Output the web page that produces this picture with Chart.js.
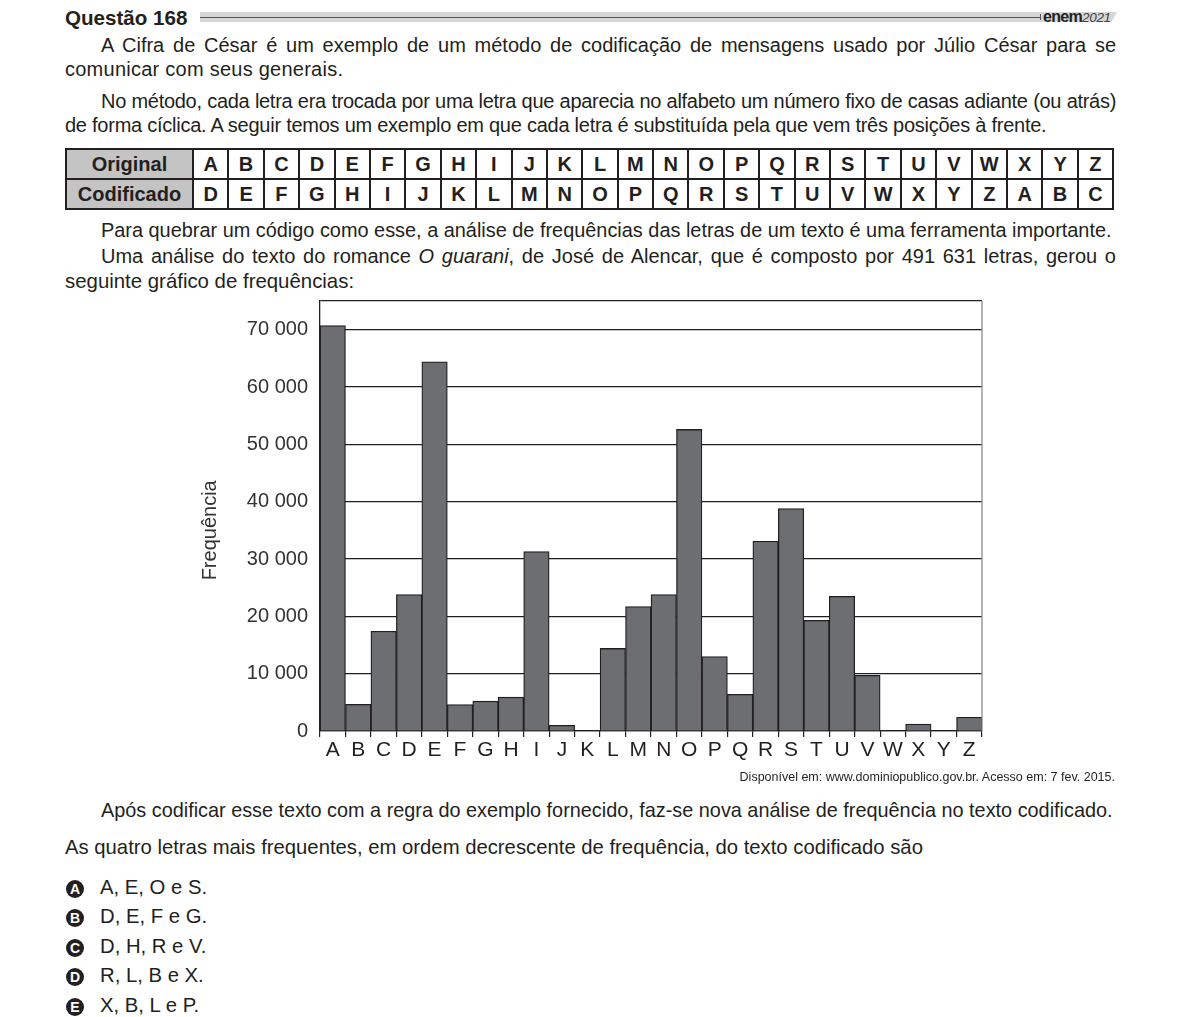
<!DOCTYPE html>
<html lang="pt-BR">
<head>
<meta charset="utf-8">
<title>Questão 168</title>
<script src="https://cdn.jsdelivr.net/npm/chart.js@4.4.1/dist/chart.umd.min.js"></script>
<style>
  html, body { margin: 0; padding: 0; background: #fff; }
  body { width: 1182px; height: 1017px; position: relative; overflow: hidden;
         font-family: "Liberation Sans", Arial, sans-serif; color: #231f20; }
  .abs { position: absolute; }
  .txt { left: 65px; width: 1051px; font-size: 20px; }
  .ln { display: block; white-space: nowrap; }
  .jl { text-align: justify; text-align-last: justify; }
  .ind { text-indent: 36px; }
  #hdr { left: 65px; top: 6px; font-size: 20.6px; font-weight: bold; line-height: 24px; }
  #band { left: 200px; top: 12px; width: 917px; height: 10px; background: #d6d6d6;
          clip-path: polygon(0 0, 100% 0, 99.4% 100%, 0 100%); }
  #bandline { left: 200px; top: 16.5px; width: 840px; height: 1px; background: #555; }
  #bandtick { left: 1040px; top: 14px; width: 1px; height: 6px; background: #555; }
  #enem { left: 1043px; top: 8px; font-size: 16px; line-height: 17px; letter-spacing: -0.7px; color: #222; }
  #enem b { font-weight: bold; }
  #enem i { font-size: 13.5px; color: #444; letter-spacing: -0.3px; }
  table { position: absolute; left: 65px; top: 148px; border-collapse: collapse; }
  td { border: 2px solid #231f20; height: 28px; padding: 0; text-align: center;
       font-weight: bold; font-size: 20px; width: 33.4px; line-height: 28px; }
  td.h { background: #c4c4c4; width: 125px; }
  #chartbox { left: 180px; top: 277px; width: 820px; height: 493px; }
  #src { right: 67px; top: 769px; font-size: 12.5px; line-height: 16px; }
  .opt { left: 66px; font-size: 20.3px; line-height: 24px; }
  .ic { display: inline-block; width: 18px; height: 18px; border-radius: 50%; background: #231f20;
        color: #fff; font-size: 14px; font-weight: bold; line-height: 18px; text-align: center;
        vertical-align: 0px; margin-right: 16px; }
</style>
</head>
<body>
<div class="abs" id="hdr">Questão 168</div>
<div class="abs" id="band"></div>
<div class="abs" id="bandline"></div>
<div class="abs" id="bandtick"></div>
<div class="abs" id="enem"><b>enem</b><i>2021</i></div>

<div class="abs txt" style="top:33px; line-height:24px;">
  <span class="ln jl ind">A Cifra de César é um exemplo de um método de codificação de mensagens usado por Júlio César para se</span>
  <span class="ln" style="letter-spacing:0.25px;">comunicar com seus generais.</span>
</div>
<div class="abs txt" style="top:89px; line-height:24px;">
  <span class="ln jl ind" style="letter-spacing:-0.3px;">No método, cada letra era trocada por uma letra que aparecia no alfabeto um número fixo de casas adiante (ou atrás)</span>
  <span class="ln" style="letter-spacing:-0.25px;">de forma cíclica. A seguir temos um exemplo em que cada letra é substituída pela que vem três posições à frente.</span>
</div>

<table id="cifra"><tbody id="tb"></tbody></table>

<div class="abs txt" style="top:218px; line-height:25px;">
  <span class="ln ind" style="font-size:19.9px;">Para quebrar um código como esse, a análise de frequências das letras de um texto é uma ferramenta importante.</span>
</div>
<div class="abs txt" style="top:244px; line-height:25px;">
  <span class="ln jl ind">Uma análise do texto do romance <i>O guarani</i>, de José de Alencar, que é composto por 491 631 letras, gerou o</span>
  <span class="ln" style="font-size:20.4px;">seguinte gráfico de frequências:</span>
</div>

<div class="abs" id="chartbox"><canvas id="c" width="820" height="493"></canvas></div>
<div class="abs" id="src">Disponível em: www.dominiopublico.gov.br. Acesso em: 7 fev. 2015.</div>

<div class="abs txt" style="top:798px; line-height:24px;">
  <span class="ln ind" style="font-size:19.85px;">Após codificar esse texto com a regra do exemplo fornecido, faz-se nova análise de frequência no texto codificado.</span>
</div>
<div class="abs txt" style="top:835px; line-height:24px;">
  <span class="ln" style="font-size:20.3px;">As quatro letras mais frequentes, em ordem decrescente de frequência, do texto codificado são</span>
</div>

<div class="abs opt" style="top:875px;"><span class="ic">A</span>A, E, O e S.</div>
<div class="abs opt" style="top:904px;"><span class="ic">B</span>D, E, F e G.</div>
<div class="abs opt" style="top:934px;"><span class="ic">C</span>D, H, R e V.</div>
<div class="abs opt" style="top:963px;"><span class="ic">D</span>R, L, B e X.</div>
<div class="abs opt" style="top:993px;"><span class="ic">E</span>X, B, L e P.</div>

<script>
// ---- Data ----
const letters = ["A","B","C","D","E","F","G","H","I","J","K","L","M","N","O","P","Q","R","S","T","U","V","W","X","Y","Z"];
const coded   = ["D","E","F","G","H","I","J","K","L","M","N","O","P","Q","R","S","T","U","V","W","X","Y","Z","A","B","C"];
const frequencies = [70700, 4650, 17400, 23800, 64400, 4600, 5200, 5900, 31300, 1000, 0, 14400, 21700,
                     23800, 52600, 13000, 6400, 33100, 38800, 19300, 23500, 9700, 0, 1200, 0, 2400];
const yTickValues = [0, 10000, 20000, 30000, 40000, 50000, 60000, 70000];
const yMax = 75000;
const yTitle = "Frequência";

// ---- Table ----
const tb = document.getElementById('tb');
[["Original", letters], ["Codificado", coded]].forEach(([name, arr]) => {
  const tr = document.createElement('tr');
  const th = document.createElement('td'); th.className = 'h'; th.textContent = name; tr.appendChild(th);
  arr.forEach(l => { const td = document.createElement('td'); td.textContent = l; tr.appendChild(td); });
  tb.appendChild(tr);
});

// ---- Chart ----
const fmt = v => String(v).replace(/\B(?=(\d{3})+(?!\d))/g, ' ');
const ink = '#231f20';

const framePlugin = {
  id: 'frame',
  afterDraw(chart) {
    const { ctx, chartArea: a, scales: { y } } = chart;
    ctx.save();
    ctx.strokeStyle = '#8a8a8a';
    ctx.lineWidth = 1.3;
    ctx.beginPath();
    ctx.moveTo(a.right, a.top);
    ctx.lineTo(a.right, a.bottom);
    ctx.stroke();
    // y-axis title centred on the labelled tick range
    const yc = (y.getPixelForValue(yTickValues[0]) + y.getPixelForValue(yTickValues[yTickValues.length - 1])) / 2;
    ctx.translate(a.left - 110, yc);
    ctx.rotate(-Math.PI / 2);
    ctx.fillStyle = '#333';
    ctx.font = '20px "Liberation Sans", Arial, sans-serif';
    ctx.textAlign = 'center';
    ctx.textBaseline = 'middle';
    ctx.fillText(yTitle, 0, 0);
    ctx.restore();
  }
};

new Chart(document.getElementById('c'), {
  type: 'bar',
  data: {
    labels: letters,
    datasets: [{
      data: frequencies,
      backgroundColor: '#6d6e71',
      borderColor: ink,
      borderWidth: 1.3,
      borderSkipped: 'bottom',
      categoryPercentage: 1,
      barPercentage: 1
    }]
  },
  options: {
    responsive: false,
    animation: false,
    devicePixelRatio: window.devicePixelRatio || 1,
    layout: { padding: { left: 0, right: 18, top: 0, bottom: 0 } },
    plugins: { legend: { display: false }, tooltip: { enabled: false } },
    scales: {
      x: {
        offset: true,
        grid: { drawOnChartArea: false, drawTicks: true, tickLength: 6, color: ink, lineWidth: 1.2 },
        border: { display: true, color: ink, width: 1.3 },
        ticks: { color: '#231f20', font: { family: '"Liberation Sans", Arial, sans-serif', size: 21 },
                 padding: 1, autoSkip: false, maxRotation: 0, minRotation: 0 },
        afterFit(scale) { scale.height = 39; }
      },
      y: {
        min: 0,
        max: yMax,
        afterBuildTicks(scale) { scale.ticks = yTickValues.concat([yMax]).map(v => ({ value: v })); },
        grid: { drawTicks: false, color: ink, lineWidth: 1.2 },
        border: { display: true, color: ink, width: 1.3 },
        ticks: { color: '#333', font: { family: '"Liberation Sans", Arial, sans-serif', size: 20 },
                 padding: 12, callback: v => (yTickValues.includes(v) ? fmt(v) : '') },
        afterFit(scale) { scale.width = 140; }
      }
    }
  },
  plugins: [framePlugin]
});
</script>
</body>
</html>
